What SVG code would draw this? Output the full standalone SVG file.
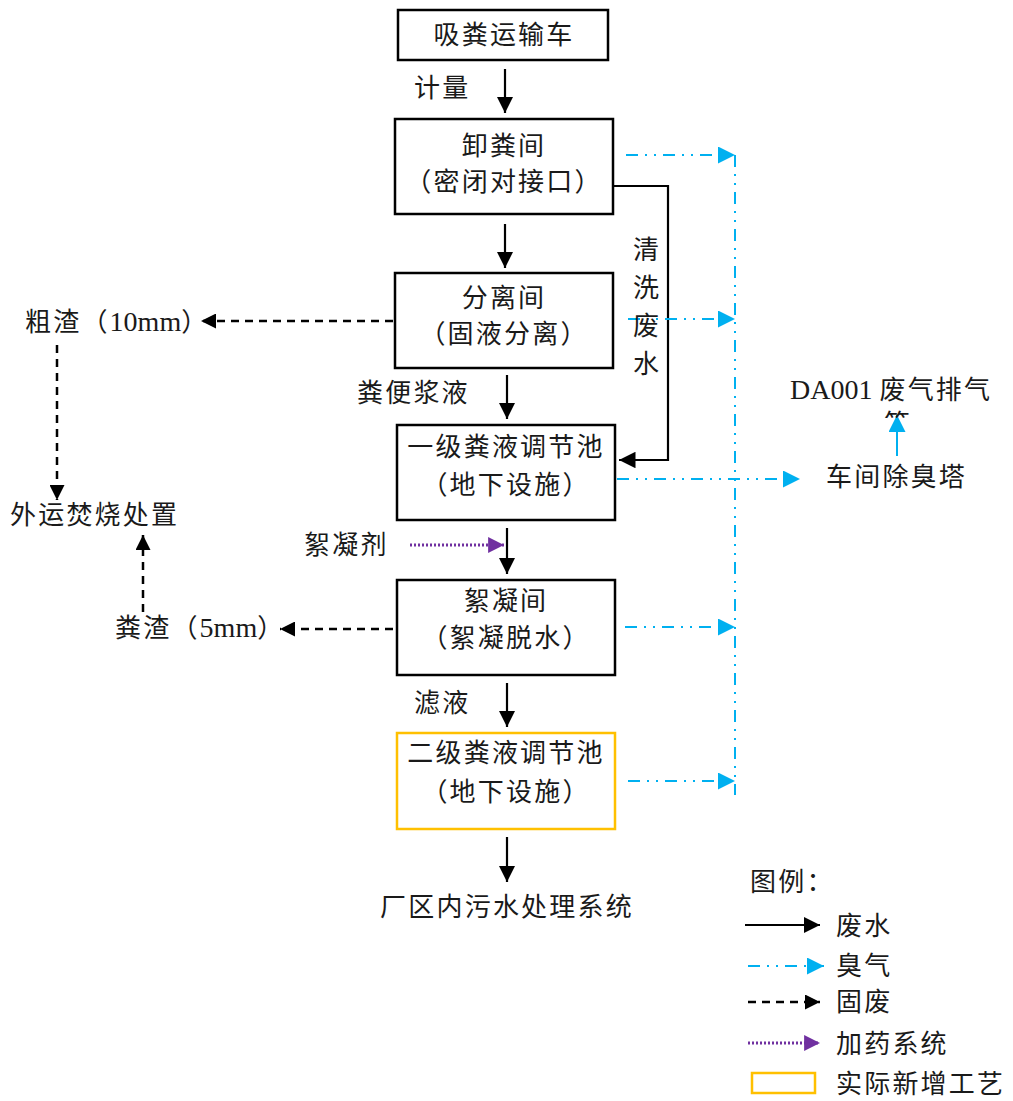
<svg xmlns="http://www.w3.org/2000/svg" width="1013" height="1101" viewBox="0 0 1013 1101">
<style>
text{font-family:"Liberation Serif","Noto Sans CJK SC",serif;font-size:26px;fill:#1a1a1a;letter-spacing:2.2px}
.c{text-anchor:middle}
.l{letter-spacing:0;font-size:28px}
.box{fill:#fff;stroke:#000;stroke-width:2.5}
.new{fill:#fff;stroke:#FFC000;stroke-width:2.5}
.w{fill:none;stroke:#000;stroke-width:2.2}
.g{fill:none;stroke:#00B0F0;stroke-width:2;stroke-dasharray:12 7 2 7 2 7}
.s{fill:none;stroke:#000;stroke-width:2.5;stroke-dasharray:8 6}
.p{fill:none;stroke:#7030A0;stroke-width:3;stroke-dasharray:2 2}
</style>
<defs>
<marker id="ab" viewBox="0 0 10 10" refX="10" refY="5" markerWidth="7.5" markerHeight="7.5" markerUnits="strokeWidth" orient="auto"><path d="M0,0L10,5L0,10z" fill="#000"/></marker>
<marker id="ag" viewBox="0 0 10 10" refX="10" refY="5" markerWidth="8.5" markerHeight="8.5" markerUnits="strokeWidth" orient="auto"><path d="M0,0L10,5L0,10z" fill="#00B0F0"/></marker>
<marker id="as" viewBox="0 0 10 10" refX="10" refY="5" markerWidth="6.5" markerHeight="6" markerUnits="strokeWidth" orient="auto"><path d="M0,0L10,5L0,10z" fill="#000"/></marker>
<marker id="ap" viewBox="0 0 10 10" refX="10" refY="5" markerWidth="5.3" markerHeight="5.3" markerUnits="strokeWidth" orient="auto"><path d="M0,0L10,5L0,10z" fill="#7030A0"/></marker>
<clipPath id="clipT"><rect x="860" y="409" width="80" height="9"/></clipPath>
</defs>

<g id="connectors">
<line class="w" x1="505" y1="69" x2="505" y2="113" marker-end="url(#ab)"/>
<line class="w" x1="505" y1="224" x2="505" y2="268" marker-end="url(#ab)"/>
<line class="w" x1="507" y1="375" x2="507" y2="419" marker-end="url(#ab)"/>
<line class="w" x1="507" y1="528" x2="507" y2="574" marker-end="url(#ab)"/>
<line class="w" x1="507" y1="683" x2="507" y2="727" marker-end="url(#ab)"/>
<line class="w" x1="507" y1="837" x2="507" y2="882" marker-end="url(#ab)"/>
<polyline class="w" points="613,186 668,186 668,460 619,460" marker-end="url(#ab)"/>
<line class="g" x1="735" y1="155" x2="735" y2="795"/>
<line class="g" x1="626" y1="155" x2="735" y2="155" marker-end="url(#ag)"/>
<line class="g" x1="628" y1="319" x2="735" y2="319" marker-end="url(#ag)"/>
<line class="g" x1="617" y1="479" x2="800" y2="479" marker-end="url(#ag)"/>
<line class="g" x1="625" y1="627" x2="735" y2="627" marker-end="url(#ag)"/>
<line class="g" x1="628" y1="781" x2="735" y2="781" marker-end="url(#ag)"/>
<line class="g" x1="897" y1="456" x2="897" y2="415" marker-end="url(#ag)" style="stroke-dasharray:none"/>
<line class="s" x1="393" y1="321" x2="201" y2="321" marker-end="url(#as)"/>
<line class="s" x1="57" y1="345" x2="57" y2="500" marker-end="url(#as)"/>
<line class="s" x1="393" y1="629" x2="280" y2="629" marker-end="url(#as)"/>
<line class="s" x1="143" y1="612" x2="143" y2="535" marker-end="url(#as)"/>
<line class="p" x1="410" y1="545" x2="504" y2="545" marker-end="url(#ap)"/>
</g>

<g id="n1"><rect class="box" x="398" y="10" width="210" height="50"/><text class="c" x="504" y="44">吸粪运输车</text></g>
<text x="414" y="97">计量</text>
<g id="n2"><rect class="box" x="395" y="119" width="218" height="95"/><text class="c" x="504" y="155">卸粪间</text><text class="c" x="504" y="191">（密闭对接口）</text></g>
<g id="n3"><rect class="box" x="395" y="273" width="218" height="95"/><text class="c" x="504" y="307">分离间</text><text class="c" x="504" y="343">（固液分离）</text></g>
<g id="n4"><rect class="box" x="397" y="425" width="218" height="95"/><text class="c" x="506" y="456">一级粪液调节池</text><text class="c" x="506" y="494">（地下设施）</text></g>
<g id="n5"><rect class="box" x="397" y="580" width="218" height="95"/><text class="c" x="506" y="610">絮凝间</text><text class="c" x="506" y="647">（絮凝脱水）</text></g>
<g id="n6"><rect class="new" x="397" y="733" width="218" height="96"/><text class="c" x="506" y="762">二级粪液调节池</text><text class="c" x="506" y="801">（地下设施）</text></g>
<g id="n7"><text class="c" x="507" y="916">厂区内污水处理系统</text></g>
<g id="clean"><text x="633" y="259">清</text><text x="633" y="297">洗</text><text x="633" y="335">废</text><text x="633" y="373">水</text></g>
<text x="357" y="402">粪便浆液</text>
<g id="n8"><text x="25" y="331">粗渣（<tspan class="l">10mm</tspan>）</text></g>
<g id="n9"><text x="10" y="524">外运焚烧处置</text></g>
<g id="n10"><text x="115" y="637">粪渣（<tspan class="l">5mm</tspan>）</text></g>
<text x="304" y="554">絮凝剂</text>
<text x="414" y="712">滤液</text>
<g id="n11"><text x="826" y="486">车间除臭塔</text></g>
<g id="n12"><text x="790" y="399"><tspan class="l">DA001 </tspan>废气排气</text><text x="884" y="433" clip-path="url(#clipT)">筒</text></g>

<g id="legend">
<text x="750" y="891">图例：</text>
<line class="w" x1="745" y1="925" x2="820" y2="925" marker-end="url(#ab)"/>
<text x="836" y="935">废水</text>
<line class="g" x1="748" y1="966" x2="824" y2="966" marker-end="url(#ag)"/>
<text x="836" y="975">臭气</text>
<line class="s" x1="748" y1="1002" x2="820" y2="1002" marker-end="url(#as)"/>
<text x="836" y="1011">固废</text>
<line class="p" x1="748" y1="1043" x2="820" y2="1043" marker-end="url(#ap)"/>
<text x="836" y="1053">加药系统</text>
<rect class="new" x="752" y="1073" width="63" height="20"/>
<text x="836" y="1093">实际新增工艺</text>
</g>
</svg>
